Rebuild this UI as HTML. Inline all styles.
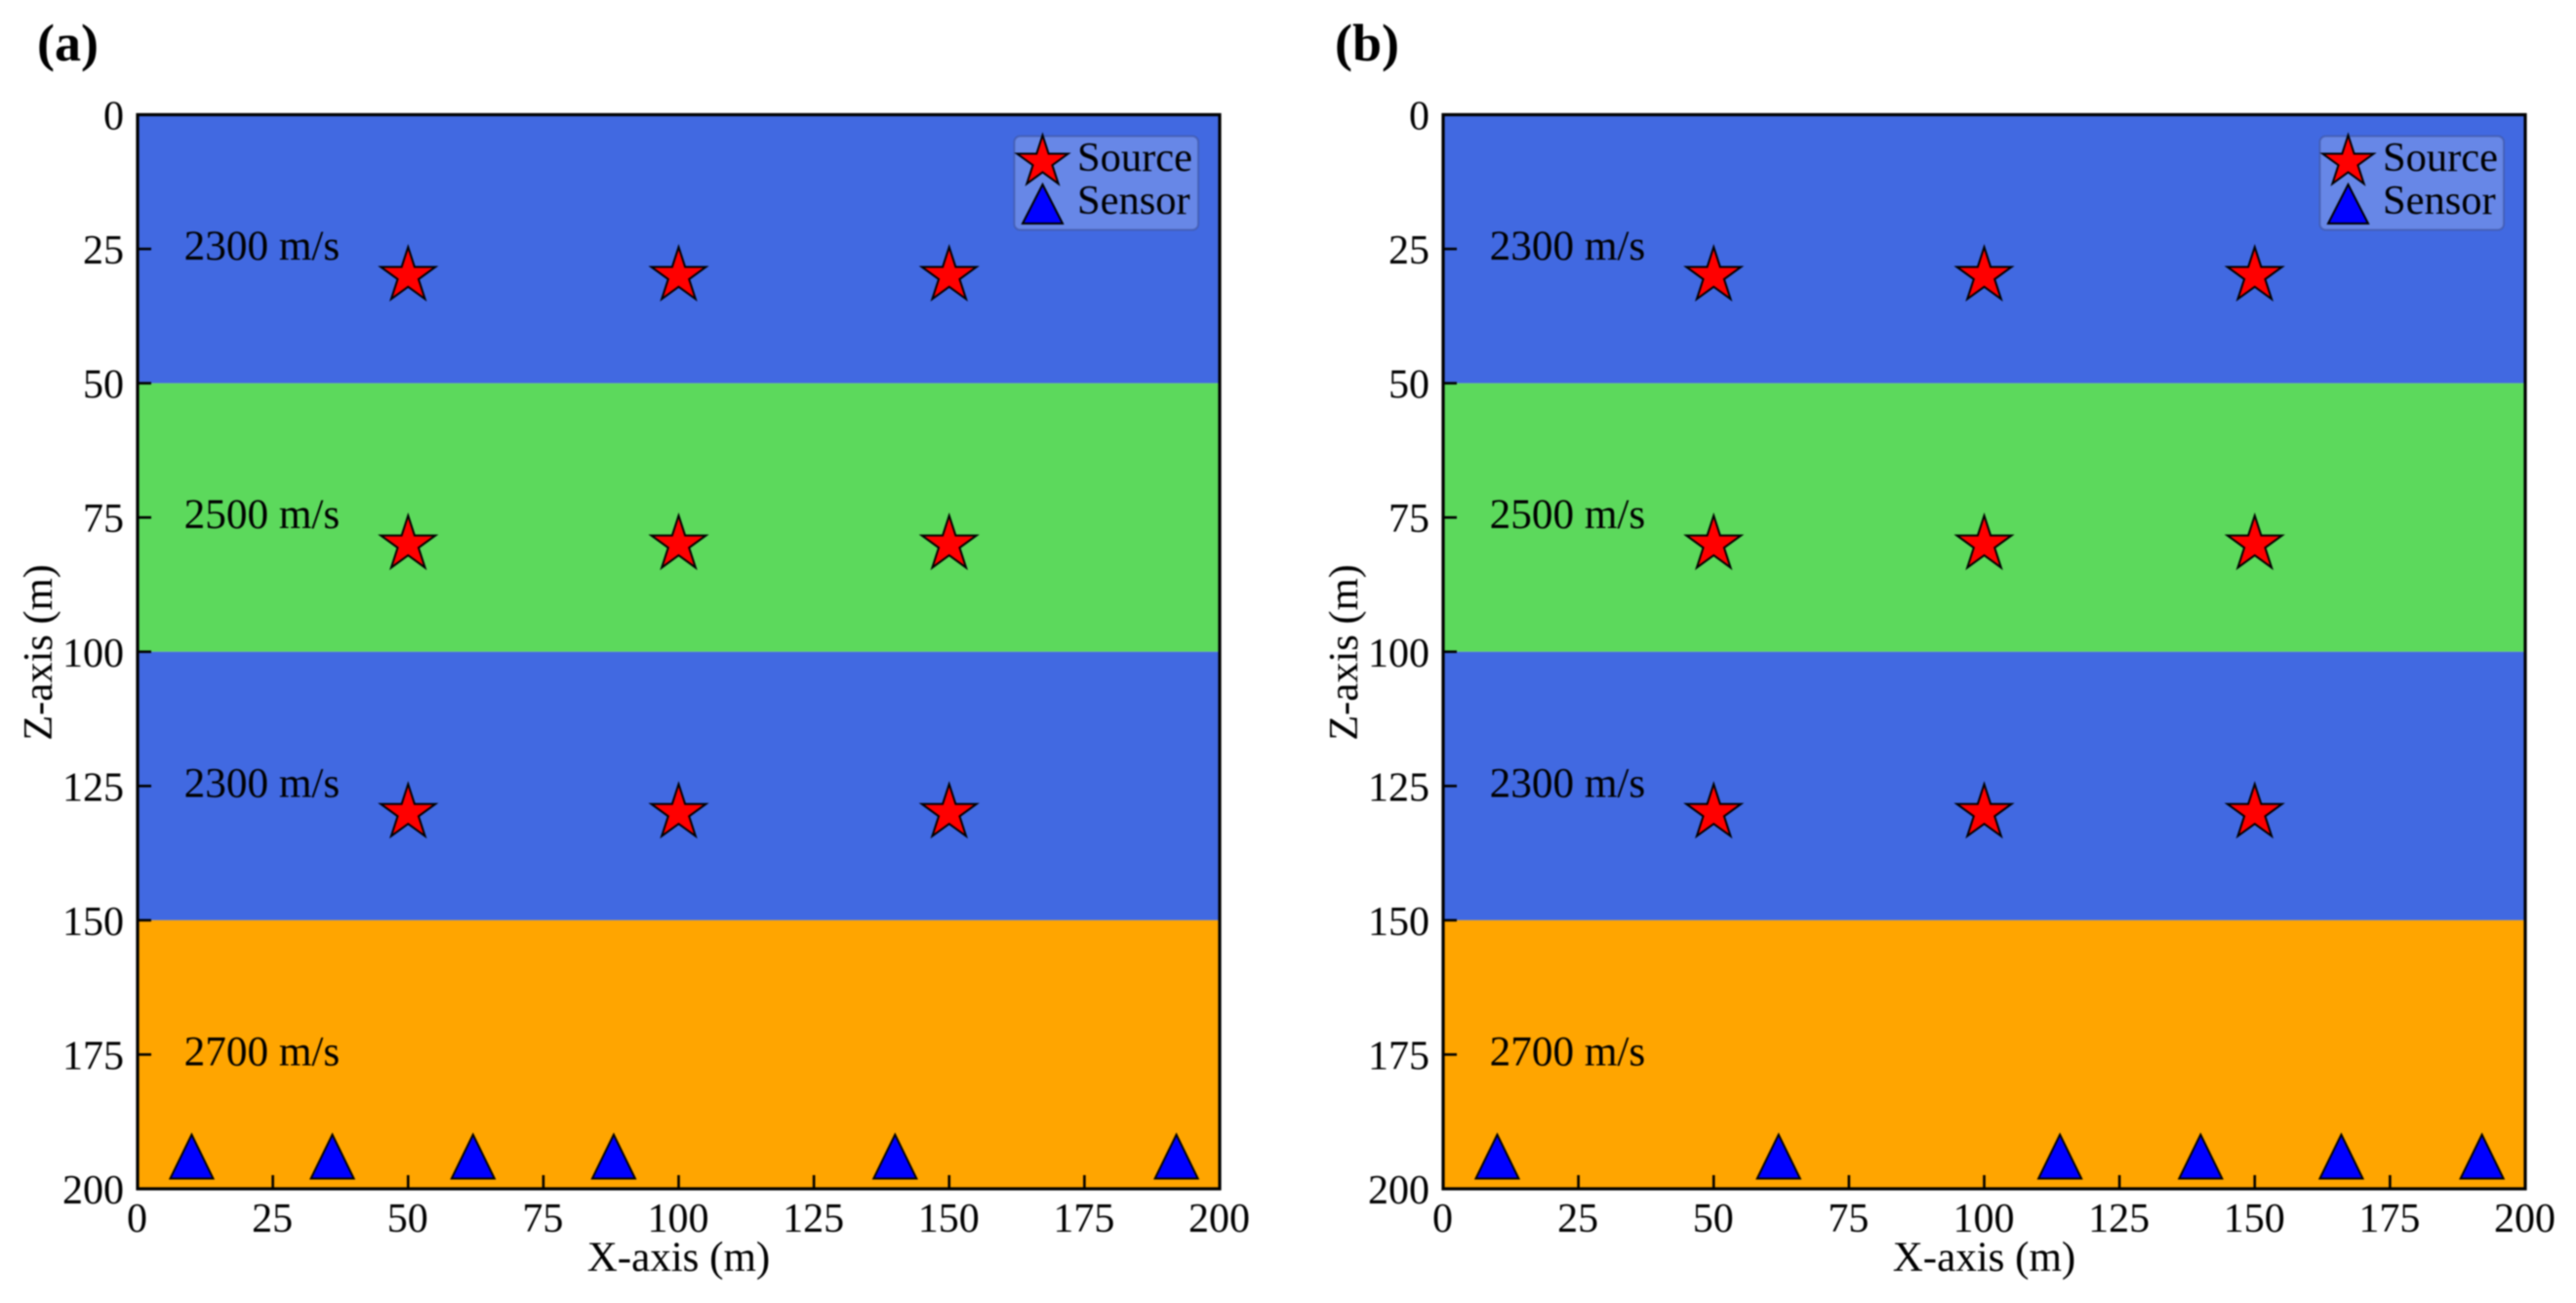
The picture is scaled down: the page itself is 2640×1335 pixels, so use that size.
<!DOCTYPE html>
<html lang="en">
<head>
<meta charset="utf-8">
<title>Layered velocity model with source and sensor layouts</title>
<style>
  html, body { margin: 0; padding: 0; background: #fff; width: 2640px; height: 1335px; overflow: hidden; }
  svg { display: block; filter: blur(0.7px); }
  text { font-family: "Liberation Serif", "Times New Roman", serif; fill: #000; font-size: 42.5px; }
</style>
</head>
<body>
<svg id="figure" xmlns="http://www.w3.org/2000/svg" width="2640" height="1335" viewBox="0 0 2640 1335"></svg>
<script>
const xTicks = [0, 25, 50, 75, 100, 125, 150, 175, 200];
const zTicks = [0, 25, 50, 75, 100, 125, 150, 175, 200];
const layerTops = [0, 50, 100, 150];
const layerBottoms = [50, 100, 150, 200];
const layerSpeeds = [2300, 2500, 2300, 2700];
const layerColors = ['#4169e1', '#5cd95c', '#4169e1', '#ffa500'];
const speedLabelX = 8.6;
const speedLabelZ = [27, 77, 127, 177];
const sourceX = [50, 100, 150];
const sourceZ = [30, 80, 130];
const sensorXA = [10, 36, 62, 88, 140, 192];
const sensorXB = [10, 62, 114, 140, 166, 192];
const sensorZ = 194;

const NS = 'http://www.w3.org/2000/svg';
const root = document.getElementById('figure');

function svgEl(parent, tag, attrs, content) {
  const el = document.createElementNS(NS, tag);
  for (const k in attrs) el.setAttribute(k, attrs[k]);
  if (content !== undefined) el.textContent = content;
  parent.appendChild(el);
  return el;
}
function starPoints(cx, cy, R) {
  const r = R * 0.382;
  const pts = [];
  for (let i = 0; i < 10; i++) {
    const a = -Math.PI / 2 + i * Math.PI / 5;
    const q = i % 2 ? r : R;
    pts.push((cx + q * Math.cos(a)).toFixed(2) + ',' + (cy + q * Math.sin(a)).toFixed(2));
  }
  return pts.join(' ');
}
function trianglePoints(cx, cy, halfW, halfH) {
  return [cx + ',' + (cy - halfH), (cx - halfW) + ',' + (cy + halfH), (cx + halfW) + ',' + (cy + halfH)].join(' ');
}

function drawPanel(panel) {
  const L = panel.left, R = panel.right, T = 117.5, B = 1218;
  const xScale = v => L + (v / 200) * (R - L);
  const zScale = v => T + (v / 200) * (B - T);

  const g = svgEl(root, 'g', {});
  
  

  const title = svgEl(g, 'text', { x: panel.titleX, y: 62, 'font-weight': 'bold', style: 'font-size:54px' }, '(' + panel.id + ')');
  
  

  layerTops.forEach((top, i) => {
    const rect = svgEl(g, 'rect', {
      x: L, y: zScale(top), width: R - L, height: zScale(layerBottoms[i]) - zScale(top), fill: layerColors[i]
    });
    
    
  });

  layerSpeeds.forEach((speed, i) => {
    const t = svgEl(g, 'text', { x: xScale(speedLabelX), y: zScale(speedLabelZ[i]), style: 'font-size:43.2px' }, speed + ' m/s');
    
    
  });

  xTicks.forEach(v => {
    const tick = svgEl(g, 'line', { x1: xScale(v), x2: xScale(v), y1: B, y2: B - 14, stroke: '#000', 'stroke-width': 2.6 });
    
    
    const label = svgEl(g, 'text', { x: xScale(v) - 0.5, y: 1262, 'text-anchor': 'middle', style: 'font-size:42px' }, v);
    
    
  });
  zTicks.forEach(v => {
    const tick = svgEl(g, 'line', { x1: L, x2: L + 14, y1: zScale(v), y2: zScale(v), stroke: '#000', 'stroke-width': 2.6 });
    
    
    const label = svgEl(g, 'text', { x: L - 14, y: zScale(v) + 15, 'text-anchor': 'end', style: 'font-size:42px' }, v);
    
    
  });

  sourceZ.forEach(z => {
    sourceX.forEach(x => {
      const star = svgEl(g, 'polygon', {
        points: starPoints(xScale(x), zScale(z), 29.5), fill: '#ff0000', stroke: '#000', 'stroke-width': 2, 'stroke-linejoin': 'miter'
      });
      
      
    });
  });

  panel.sensors.forEach(x => {
    const tri = svgEl(g, 'polygon', {
      points: trianglePoints(xScale(x), zScale(sensorZ), 22, 22.5), fill: '#0000ff', stroke: '#000', 'stroke-width': 2, 'stroke-linejoin': 'miter'
    });
    
    
  });

  const frame = svgEl(g, 'rect', { x: L, y: T, width: R - L, height: B - T, fill: 'none', stroke: '#000', 'stroke-width': 3.2 });
  
  

  const xTitle = svgEl(g, 'text', { x: (L + R) / 2, y: 1302, 'text-anchor': 'middle', style: 'font-size:43px' }, 'X-axis (m)');
  
  

  const zTitle = svgEl(g, 'text', {
    x: 0, y: 0, 'text-anchor': 'middle', transform: 'translate(' + (L - 88) + ',668.5) rotate(-90)'
  }, 'Z-axis (m)');
  
  

  const legend = svgEl(g, 'g', {});
  
  
  const dx = R - 1250;

  const box = svgEl(legend, 'rect', {
    x: 1039.5 + dx, y: 139.5, width: 188.5, height: 96, rx: 6, ry: 6,
    fill: 'rgba(255,255,255,0.2)', stroke: 'rgba(60,80,150,0.55)', 'stroke-width': 2
  });
  
  

  const legStar = svgEl(legend, 'polygon', {
    points: starPoints(1068.5 + dx, 166, 27.5), fill: '#ff0000', stroke: '#000', 'stroke-width': 2
  });
  
  

  const legTri = svgEl(legend, 'polygon', {
    points: trianglePoints(1068.5 + dx, 209, 20.5, 20), fill: '#0000ff', stroke: '#000', 'stroke-width': 2
  });
  
  

  const srcText = svgEl(legend, 'text', { x: 1104 + dx, y: 175 }, 'Source');
  
  

  const senText = svgEl(legend, 'text', { x: 1104 + dx, y: 219 }, 'Sensor');
  
  
}

drawPanel({ id: 'a', left: 141, right: 1250, titleX: 38, sensors: sensorXA });
drawPanel({ id: 'b', left: 1479, right: 2588, titleX: 1368, sensors: sensorXB });
</script>
</body>
</html>
